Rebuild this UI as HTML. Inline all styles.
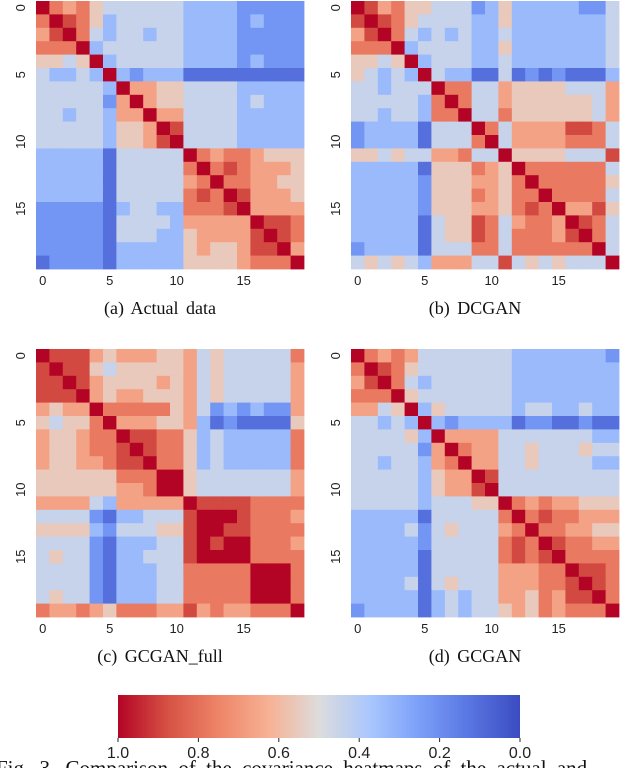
<!DOCTYPE html>
<html><head><meta charset="utf-8"><style>
html,body{margin:0;padding:0;background:#fff;width:640px;height:768px;overflow:hidden}
svg{display:block}
</style></head><body>
<svg id="fig" width="640" height="768" xmlns="http://www.w3.org/2000/svg">
<defs><linearGradient id="cbgrad" x1="0" x2="1" y1="0" y2="0">
<stop offset="0" stop-color="#b40426"/><stop offset="0.125" stop-color="#d65244"/><stop offset="0.25" stop-color="#ee8468"/><stop offset="0.375" stop-color="#f7b194"/><stop offset="0.5" stop-color="#dddcdc"/><stop offset="0.625" stop-color="#aac7fd"/><stop offset="0.75" stop-color="#7b9ff9"/><stop offset="0.875" stop-color="#5875e1"/><stop offset="1" stop-color="#3b4cc0"/></linearGradient></defs>
<g id="panels"></g>
<rect x="118" y="695" width="402" height="43" fill="url(#cbgrad)"/>
<g id="cbticks" font-family="Liberation Sans, sans-serif" font-size="16" fill="#222" text-anchor="middle"></g>
<text x="-4" y="775" font-family="Liberation Serif, serif" font-size="21" word-spacing="5" fill="#111">Fig. 3.  Comparison of the covariance heatmaps of the actual and</text>
</svg>
<script>
const NS="http://www.w3.org/2000/svg";
const tickLabels=[0,5,10,15];
const cbTickLabels=["1.0","0.8","0.6","0.4","0.2","0.0"];
const captions=["(a)  Actual data","(b)  DCGAN","(c)  GCGAN_full","(d)  GCGAN"];
const matA=["97675444444333322222","79875344444333323222","68974344344333322222","77793444444333322222","55459344444333323222","43343932333111111111","44444396655444433333","44444269655444434333","44344366966444433333","44444355698444433333","44444355689444433333","33333144444976776555","33333144444797876665","33333144444679776655","33333144444787986665","22222134433777896666","22222144443666669887","22222144433566668987","22222133333565568896","12222133333555567779"];
const matB=["98675544423533333224","89875444433533333334","68974343433433333334","77793444433533333334","55459344433433333334","54343943311412121113","44344497744655554446","44444379744655555546","44344377944755555546","23333144497466668874","23333144479466667774","55454466744955554448","33333155576597777774","33333255566579777775","33333255576577977774","33333255566578796685","33333145587467769874","33333145587477768974","23333144477477777794","45454366644845454449"];
const matC=["98886566655645444447","89885455555645444446","88986555565645444446","88896566555645444446","65669777775642323226","54557966655631211115","65567798877534333337","65567789877534333337","65566788977534333337","55555577799544444446","55555566799544444446","66664366666988887777","44442133444899987776","55553244455899887777","44442133344898997776","45442133444899997777","44442133344777779997","44442133344777779997","45442133344777779997","76676577766867667779"];
const matD=["97676444444433333332","79875444444433333333","68974344444433333333","77795444444433333333","66459354444434433433","44343932333312211211","44445396666444444433","44444269766445444544","44344367966445444433","44444356698444444444","44444356689444444444","44444344455976766555","33333144444797877666","33334245444679776655","33333244444787987766","33333144444787897777","33333144444666779887","33334145444666778987","33333134344665768897","23333134344565767779"];
const mats=[matA,matB,matC,matD];
const stops=[[0,[59,76,192]],[0.125,[88,117,225]],[0.25,[123,159,249]],[0.375,[170,199,253]],[0.5,[221,220,220]],[0.625,[247,177,148]],[0.75,[238,132,104]],[0.875,[214,82,68]],[1,[180,4,38]]];
function color(v){v=Math.max(0,Math.min(1,v));for(let i=1;i<stops.length;i++){if(v<=stops[i][0]){const a=stops[i-1],b=stops[i];const t=(v-a[0])/(b[0]-a[0]);const c=a[1].map((x,k)=>Math.round(x+(b[1][k]-x)*t));return `rgb(${c})`;}}return "rgb(180,4,38)";}
const panelX=[36,351,36,351], panelY=[1,1,349,349], size=268, n=20, cell=size/n;
const g=document.getElementById('panels');
function el(tag,attrs,parent){const e=document.createElementNS(NS,tag);for(const k in attrs)e.setAttribute(k,attrs[k]);parent.appendChild(e);return e;}
mats.forEach((m,p)=>{
  const pg=el('g',{},g);
  
  
  const x0=panelX[p],y0=panelY[p];
  const sx=i=>x0+i*cell, sy=j=>y0+j*cell;
  m.forEach((row,r)=>{for(let c=0;c<n;c++){
    const v=parseInt(row[c])/9;
    const rc=el('rect',{x:sx(c),y:sy(r),width:cell+0.4,height:cell+0.4,fill:color(v)},pg);
    
    
  }});
  tickLabels.forEach(t=>{
    const tx=el('text',{x:sx(t+0.5),y:y0+size+16,'font-family':'Liberation Sans, sans-serif','font-size':'13','text-anchor':'middle',fill:'#222'},pg);
    tx.textContent=t;
    
    
    const yy=sy(t+0.5), xx=x0-11;
    const ty=el('text',{x:xx,y:yy,transform:`rotate(-90 ${xx} ${yy})`,'font-family':'Liberation Sans, sans-serif','font-size':'13','text-anchor':'middle',fill:'#222'},pg);
    ty.textContent=t;
    
    
  });
  const cap=el('text',{x:x0+size/2-10,y:y0+size+45,'font-family':'Liberation Serif, serif','font-size':'18','word-spacing':'3','text-anchor':'middle',fill:'#111'},pg);
  cap.textContent=captions[p];
  
  
});
const cb=document.getElementById('cbticks');
cbTickLabels.forEach((t,i)=>{
  const x=118+i*402/5;
  const tk=el('line',{x1:x,x2:x,y1:738,y2:742,stroke:'#222'},cb);
  
  
  const tx=el('text',{x:x,y:758},cb);
  tx.textContent=t;
  
  
});
</script>
</body></html>
